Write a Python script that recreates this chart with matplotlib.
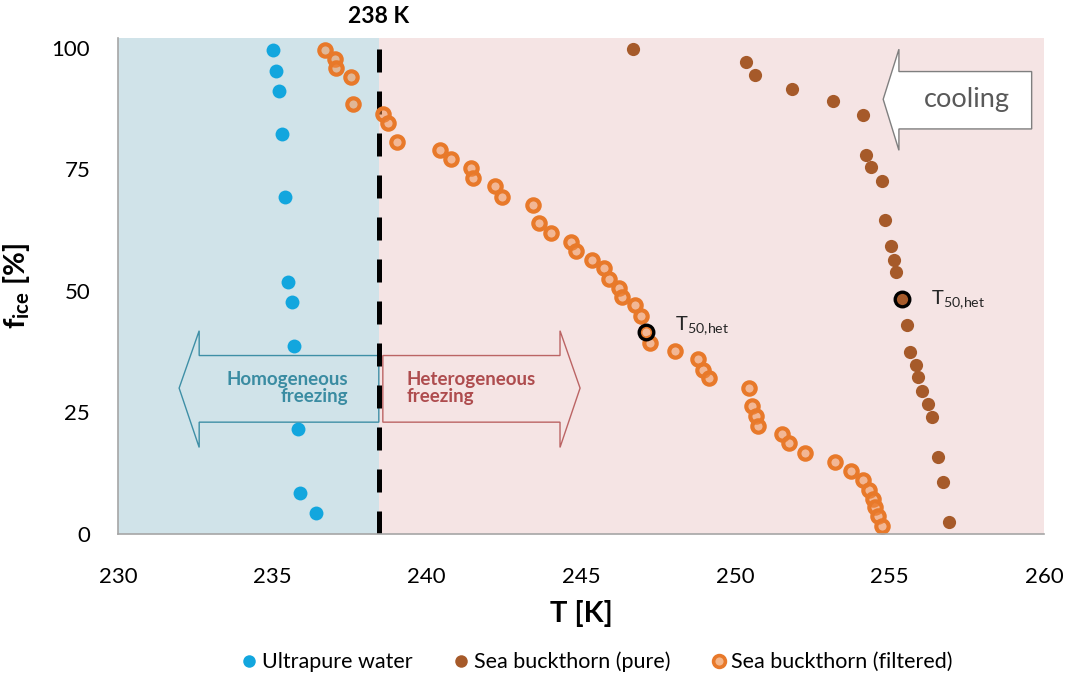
import numpy as np
import matplotlib
matplotlib.use("Agg")
import matplotlib.pyplot as plt
from matplotlib.patches import Polygon
from matplotlib.lines import Line2D

plt.rcParams['font.family'] = ['Lato', 'DejaVu Sans']

# Ultrapure water
T_water = [235.01, 235.13, 235.21, 235.31, 235.40, 235.52, 235.63, 235.71, 235.83, 235.91, 236.41]
f_water = [99.6, 95.2, 91.0, 82.2, 69.3, 51.8, 47.7, 38.7, 21.5, 8.4, 4.3]

# Sea buckthorn, pure
T_pure = [246.68, 250.33, 250.64, 251.82, 253.15, 254.14, 254.23, 254.41, 254.74, 254.85,
          255.04, 255.15, 255.22, 255.39, 255.55, 255.66, 255.85, 255.93, 256.06, 256.25,
          256.36, 256.55, 256.74, 256.93]
f_pure = [99.8, 97.0, 94.3, 91.5, 89.0, 86.1, 78.0, 75.4, 72.6, 64.5,
          59.3, 56.4, 53.8, 48.3, 42.9, 37.5, 34.8, 32.2, 29.4, 26.7,
          24.1, 15.9, 10.6, 2.5]

# Sea buckthorn, filtered
T_filt = [236.72, 237.04, 237.06, 237.54, 237.60, 238.57, 238.74, 239.03, 240.43, 240.80,
          241.43, 241.51, 242.21, 242.43, 243.45, 243.64, 244.02, 244.66, 244.83, 245.35,
          245.74, 245.92, 246.24, 246.32, 246.75, 246.96, 247.09, 247.23, 248.04, 248.78,
          248.94, 249.14, 250.44, 250.53, 250.67, 250.74, 251.50, 251.75, 252.25, 253.23,
          253.74, 254.14, 254.34, 254.45, 254.52, 254.63, 254.74]
f_filt = [99.6, 97.7, 95.8, 94.0, 88.4, 86.4, 84.5, 80.7, 79.0, 77.1,
          75.2, 73.3, 71.6, 69.4, 67.6, 63.9, 62.0, 60.1, 58.2, 56.4,
          54.7, 52.5, 50.6, 48.8, 47.1, 44.9, 41.5, 39.2, 37.7, 35.9,
          33.7, 32.0, 30.0, 26.3, 24.3, 22.3, 20.6, 18.7, 16.6, 14.9,
          13.0, 11.1, 9.1, 7.3, 5.6, 3.7, 1.6]

# T50 points (heterogeneous freezing)
T50_T = [247.09, 255.39]
T50_f = [41.5, 48.3]

T_hom = 238.45
xticks = [230, 235, 240, 245, 250, 255, 260]
yticks = [0, 25, 50, 75, 100]

c_water = '#12A6DE'
c_pure = '#A65A2A'
c_filt = '#E8792A'
c_filt_face = (0.94, 0.55, 0.28, 0.5)

fig = plt.figure(figsize=(10.70, 6.79), dpi=100)
ax = fig.add_axes([118 / 1070, 1 - 534 / 679, 926 / 1070, (534 - 38) / 679])
ax.set_xlim(230, 260)
ax.set_ylim(0, 102)

# background regions
ax.axvspan(230, T_hom, color='#D0E3E9', lw=0, zorder=0)
ax.axvspan(T_hom, 260, color='#F5E4E4', lw=0, zorder=0)

# arrows for the two freezing regimes
hom_arrow = Polygon([(T_hom, 36.7), (232.63, 36.7), (232.63, 41.8), (231.98, 30.0),
                     (232.63, 17.8), (232.63, 23.0), (T_hom, 23.0)], closed=True,
                    fill=False, edgecolor='#3E8FA6', lw=1.0, zorder=1)
het_arrow = Polygon([(238.58, 36.7), (244.32, 36.7), (244.32, 41.8), (244.97, 30.0),
                     (244.32, 17.8), (244.32, 23.0), (238.58, 23.0)], closed=True,
                    fill=False, edgecolor='#BB6464', lw=1.0, zorder=1)
ax.add_patch(hom_arrow)
ax.add_patch(het_arrow)
ax.text(237.47, 30.0, 'Homogeneous\nfreezing', ha='right', va='center', fontsize=13.5,
        fontweight='bold', color='#3A8CA2', linespacing=1.05, zorder=2)
ax.text(239.36, 30.0, 'Heterogeneous\nfreezing', ha='left', va='center', fontsize=13.5,
        fontweight='bold', color='#AE4C4E', linespacing=1.05, zorder=2)

# cooling arrow
cool = Polygon([(259.60, 95.1), (255.30, 95.1), (255.30, 99.7), (254.79, 89.4),
                (255.30, 78.9), (255.30, 83.3), (259.60, 83.3)], closed=True,
               facecolor='white', edgecolor='#7F7F7F', lw=1.0, zorder=2)
ax.add_patch(cool)
ax.text(257.5, 89.4, 'cooling', ha='center', va='center', fontsize=19.5, color='#595959', zorder=3)

# 238 K line
ax.plot([T_hom, T_hom], [0, 102], color='black', lw=3.6, dashes=(4.6, 3.8), zorder=3)
ax.text(T_hom, 104.3, '238 K', ha='center', va='bottom', fontsize=16.5, fontweight='bold')

# data
ax.plot(T_water, f_water, 'o', ms=10, color=c_water, mec='none', zorder=4)
ax.plot(T_pure, f_pure, 'o', ms=9.5, color=c_pure, mec='none', zorder=4)
ax.plot(T_filt, f_filt, 'o', ms=8.9, mfc=c_filt_face, mec=c_filt, mew=3.0, zorder=5)
ax.plot(T50_T, T50_f, 'o', ms=10.5, mfc='none', mec='black', mew=2.4, zorder=6)
for tx, fy, dy in zip(T50_T, T50_f, [5, 0]):
    ax.annotate(r'T$_{\mathregular{50,\!het}}$', (tx, fy), xytext=(21, dy),
                textcoords='offset points', ha='left', va='center', fontsize=14.5,
                color='#262626', zorder=6)

ax.set_xticks(xticks)
ax.set_yticks(yticks)
ax.tick_params(length=0, labelsize=16)
ax.tick_params(axis='x', pad=24)
ax.tick_params(axis='y', pad=20)
for s in ['top', 'right']:
    ax.spines[s].set_visible(False)
for s in ['left', 'bottom']:
    ax.spines[s].set_color('#A6A6A6')
    ax.spines[s].set_linewidth(1.2)
    ax.spines[s].set_zorder(7)

ax.set_xlabel('T [K]', fontsize=21, fontweight='bold', labelpad=9)
ax.set_ylabel(r'f$_{\mathregular{ice}}$ [%]', fontsize=21, fontweight='bold', labelpad=14)

handles = [
    Line2D([], [], ls='none', marker='o', ms=9, color=c_water, mec='none'),
    Line2D([], [], ls='none', marker='o', ms=9, color=c_pure, mec='none'),
    Line2D([], [], ls='none', marker='o', ms=8.5, mfc='#F4B68A', mec=c_filt, mew=2.6),
]
fig.legend(handles, ['Ultrapure water', 'Sea buckthorn (pure)', 'Sea buckthorn (filtered)'],
           loc='center', bbox_to_anchor=(0.558, 0.025), ncol=3, frameon=False,
           fontsize=15.5, handlelength=0.7, handletextpad=0.25, columnspacing=1.9)

fig.savefig('out.png', dpi=100)
